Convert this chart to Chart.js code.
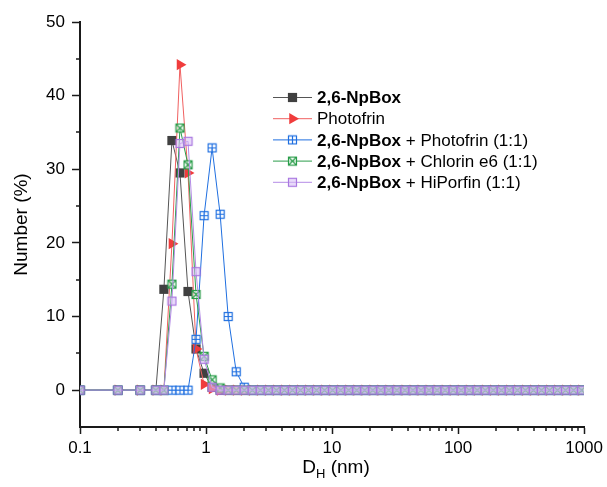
<!DOCTYPE html>
<html>
<head>
<meta charset="utf-8">
<script src="https://cdn.jsdelivr.net/npm/chart.js@4"></script>
<style>
  body { margin: 0; background: #fff; }
  #wrap { width: 607px; height: 487px; position: relative; }
</style>
</head>
<body>
<div id="wrap"><canvas id="dlsChart"></canvas></div>
<script>
// Hydrodynamic diameter bins (nm)
const diameters = [
    0.1, 0.2, 0.3,
    0.4000, 0.4632, 0.5365, 0.6213, 0.7195, 0.8332, 0.9649, 1.117, 1.294, 1.499,
    1.736, 2.010, 2.328, 2.696, 3.122, 3.615, 4.187, 4.849, 5.615, 6.503, 7.531,
    8.721, 10.10, 11.70, 13.54, 15.69, 18.17, 21.04, 24.36, 28.21, 32.67, 37.84,
    43.82, 50.75, 58.77, 68.06, 78.82, 91.28, 105.7, 122.4, 141.8, 164.2, 190.1,
    220.2, 255.0, 295.3, 342.0, 396.1, 458.7, 531.2, 615.1, 712.4, 825.0, 955.4
];

// Number distribution (%)
const npBox = [
    0, 0, 0,
    0, 13.7, 33.9, 29.5, 13.4, 5.6, 2.3, 0.4, 0, 0,
    0, 0, 0, 0, 0, 0, 0, 0, 0, 0, 0,
    0, 0, 0, 0, 0, 0, 0, 0, 0, 0, 0,
    0, 0, 0, 0, 0, 0, 0, 0, 0, 0, 0,
    0, 0, 0, 0, 0, 0, 0, 0, 0, 0, 0
];
const photofrin = [
    0, 0, 0,
    0, 0, 19.9, 44.2, 29.5, 5.6, 0.8, 0.2, 0, 0,
    0, 0, 0, 0, 0, 0, 0, 0, 0, 0, 0,
    0, 0, 0, 0, 0, 0, 0, 0, 0, 0, 0,
    0, 0, 0, 0, 0, 0, 0, 0, 0, 0, 0,
    0, 0, 0, 0, 0, 0, 0, 0, 0, 0, 0
];
const npBoxPhotofrin = [
    0, 0, 0,
    0, 0, 0, 0, 0, 6.9, 23.7, 32.9, 23.9, 10.0,
    2.5, 0.4, 0, 0, 0, 0, 0, 0, 0, 0, 0,
    0, 0, 0, 0, 0, 0, 0, 0, 0, 0, 0,
    0, 0, 0, 0, 0, 0, 0, 0, 0, 0, 0,
    0, 0, 0, 0, 0, 0, 0, 0, 0, 0, 0
];
const npBoxChlorin = [
    0, 0, 0,
    0, 0, 14.4, 35.6, 30.6, 13.0, 4.6, 1.4, 0.3, 0,
    0, 0, 0, 0, 0, 0, 0, 0, 0, 0, 0,
    0, 0, 0, 0, 0, 0, 0, 0, 0, 0, 0,
    0, 0, 0, 0, 0, 0, 0, 0, 0, 0, 0,
    0, 0, 0, 0, 0, 0, 0, 0, 0, 0, 0
];
const npBoxHiPorfin = [
    0, 0, 0,
    0, 0, 12.1, 33.5, 33.8, 16.1, 4.2, 0.4, 0, 0,
    0, 0, 0, 0, 0, 0, 0, 0, 0, 0, 0,
    0, 0, 0, 0, 0, 0, 0, 0, 0, 0, 0,
    0, 0, 0, 0, 0, 0, 0, 0, 0, 0, 0,
    0, 0, 0, 0, 0, 0, 0, 0, 0, 0, 0
];

const xMajorTicks = [0.1, 1, 10, 100, 1000];
const yMajorTicks = [0, 10, 20, 30, 40, 50];
const yMinorTicks = [5, 15, 25, 35, 45];

const FONT = '"Liberation Sans", Arial, Helvetica, sans-serif';

// hollow square markers drawn once on small canvases
function boxMarker(color, fill, kind) {
    const c = document.createElement('canvas');
    c.width = 11; c.height = 11;
    const g = c.getContext('2d');
    g.fillStyle = fill;
    g.fillRect(1, 1, 9, 9);
    g.strokeStyle = color;
    g.lineWidth = 1.2;
    g.strokeRect(1.5, 1.5, 8, 8);
    g.beginPath();
    if (kind === 'plus') {
        g.moveTo(5.5, 1.5); g.lineTo(5.5, 9.5);
        g.moveTo(1.5, 5.5); g.lineTo(9.5, 5.5);
    } else if (kind === 'x') {
        g.moveTo(1.5, 1.5); g.lineTo(9.5, 9.5);
        g.moveTo(9.5, 1.5); g.lineTo(1.5, 9.5);
    }
    g.stroke();
    return c;
}

const blueMarker = boxMarker('#1f6fe0', 'rgba(255,255,255,0.6)', 'plus');
const greenMarker = boxMarker('#2a9d4a', 'rgba(255,255,255,0.6)', 'x');
const purpleMarker = boxMarker('#a977e0', 'rgba(215,190,245,0.55)', 'none');

function toPoints(ys) {
    return diameters.map((d, i) => ({ x: d, y: ys[i] }));
}

const seriesDefs = [
    { label: [['2,6-NpBox', true]], data: npBox, line: '#555555', color: '#404040', style: 'rect', radius: 6.5, rotation: 0, order: 4 },
    { label: [['Photofrin', false]], data: photofrin, line: '#f06060', color: '#f03c3c', style: 'triangle', radius: 6.5, rotation: 90, order: 3 },
    { label: [['2,6-NpBox', true], [' + Photofrin (1:1)', false]], data: npBoxPhotofrin, line: '#1f6fe0', color: '#1f6fe0', style: blueMarker, radius: 5, rotation: 0, order: 2 },
    { label: [['2,6-NpBox', true], [' + Chlorin e6 (1:1)', false]], data: npBoxChlorin, line: '#2a9d4a', color: '#2a9d4a', style: greenMarker, radius: 5, rotation: 0, order: 1 },
    { label: [['2,6-NpBox', true], [' + HiPorfin (1:1)', false]], data: npBoxHiPorfin, line: '#b48be6', color: '#a977e0', style: purpleMarker, radius: 5, rotation: 0, order: 0 }
];

/**
 * Minor ticks, axis titles and the mixed bold/normal legend.
 */
const decorPlugin = {
    id: 'decor',
    afterDraw(chart) {
        const ctx = chart.ctx;
        const xs = chart.scales.x;
        const ys = chart.scales.y;
        const area = chart.chartArea;
        ctx.save();

        // minor ticks
        ctx.strokeStyle = '#1a1a1a';
        ctx.lineWidth = 1.5;
        ctx.beginPath();
        xs.ticks.forEach(t => {
            if (xMajorTicks.includes(t.value)) return;
            const px = Math.round(xs.getPixelForValue(t.value));
            ctx.moveTo(px, area.bottom);
            ctx.lineTo(px, area.bottom + 4);
        });
        yMinorTicks.forEach(v => {
            const py = Math.round(ys.getPixelForValue(v));
            ctx.moveTo(area.left, py);
            ctx.lineTo(area.left - 4, py);
        });
        ctx.stroke();

        // axis titles
        ctx.fillStyle = '#000';
        ctx.textBaseline = 'middle';
        const cx = (area.left + area.right) / 2;
        const parts = [['D', 19, 0], ['H', 13, 6], [' (nm)', 19, 0]];
        let total = 0;
        parts.forEach(p => { ctx.font = p[1] + 'px ' + FONT; total += ctx.measureText(p[0]).width; });
        let tx = cx - total / 2 + 4;
        ctx.textAlign = 'left';
        parts.forEach(p => {
            ctx.font = p[1] + 'px ' + FONT;
            ctx.fillText(p[0], tx, 468 + p[2]);
            tx += ctx.measureText(p[0]).width;
        });

        ctx.save();
        ctx.translate(22, (area.top + area.bottom) / 2);
        ctx.rotate(-Math.PI / 2);
        ctx.textAlign = 'center';
        ctx.font = '19px ' + FONT;
        ctx.fillText('Number (%)', 0, 0);
        ctx.restore();

        // legend
        const lx0 = 273, lx1 = 312, mx = 292.5, textX = 317;
        seriesDefs.forEach((s, i) => {
            const y = 97.5 + i * 21.2;
            ctx.strokeStyle = s.line;
            ctx.lineWidth = 1;
            ctx.beginPath();
            ctx.moveTo(lx0, y);
            ctx.lineTo(lx1, y);
            ctx.stroke();
            ctx.fillStyle = s.color;
            ctx.strokeStyle = s.color;
            Chart.helpers.drawPoint(ctx, { pointStyle: s.style, rotation: s.rotation, radius: s.radius, borderWidth: 0 }, mx, y);
            let x = textX;
            ctx.fillStyle = '#000';
            ctx.textAlign = 'left';
            s.label.forEach(seg => {
                ctx.font = (seg[1] ? 'bold ' : '') + '17px ' + FONT;
                ctx.fillText(seg[0], x, y + 1);
                x += ctx.measureText(seg[0]).width;
            });
        });
        ctx.restore();
    }
};

document.addEventListener('DOMContentLoaded', () => {
    const ctx = document.getElementById('dlsChart').getContext('2d');

    const datasets = seriesDefs.map(s => ({
        label: s.label.map(seg => seg[0]).join(''),
        data: toPoints(s.data),
        showLine: true,
        borderColor: s.line,
        borderWidth: 1,
        backgroundColor: s.color,
        pointBackgroundColor: s.color,
        pointBorderColor: s.color,
        pointBorderWidth: 0,
        pointStyle: s.style,
        pointRadius: s.radius,
        pointRotation: s.rotation,
        pointHoverRadius: s.radius,
        tension: 0,
        order: s.order
    }));

    new Chart(ctx, {
        type: 'scatter',
        data: { datasets: datasets },
        options: {
            responsive: true,
            maintainAspectRatio: false,
            animation: false,
            events: [],
            layout: { padding: { top: 22, right: 20, left: 0, bottom: 0 } },
            plugins: { legend: { display: false }, tooltip: { enabled: false } },
            scales: {
                x: {
                    type: 'logarithmic',
                    min: 0.1,
                    max: 1000,
                    afterBuildTicks(scale) {
                        const ticks = [];
                        [0.1, 1, 10, 100].forEach(base => {
                            for (let m = 1; m <= 9; m++) ticks.push({ value: +(base * m).toPrecision(3) });
                        });
                        ticks.push({ value: 1000 });
                        scale.ticks = ticks;
                    },
                    afterFit(scale) { scale.height = 60; },
                    border: { display: true, color: '#1a1a1a', width: 2 },
                    grid: {
                        display: true,
                        drawOnChartArea: false,
                        drawTicks: true,
                        tickLength: 7,
                        tickWidth: 1.5,
                        tickColor: c => (c.tick && xMajorTicks.includes(c.tick.value)) ? '#1a1a1a' : 'rgba(0,0,0,0)'
                    },
                    ticks: {
                        autoSkip: false,
                        maxRotation: 0,
                        padding: 4,
                        color: '#000',
                        font: { family: FONT, size: 17 },
                        callback: v => xMajorTicks.includes(v) ? String(v) : ''
                    }
                },
                y: {
                    type: 'linear',
                    min: -5,
                    max: 50,
                    afterBuildTicks(scale) {
                        scale.ticks = yMajorTicks.map(v => ({ value: v }));
                    },
                    afterFit(scale) { scale.width = 80; },
                    border: { display: true, color: '#1a1a1a', width: 2 },
                    grid: {
                        display: true,
                        drawOnChartArea: false,
                        drawTicks: true,
                        tickLength: 8,
                        tickWidth: 1.5,
                        tickColor: '#1a1a1a'
                    },
                    ticks: {
                        padding: 7,
                        color: '#000',
                        font: { family: FONT, size: 17 }
                    }
                }
            }
        },
        plugins: [decorPlugin]
    });
});
</script>
</body>
</html>
